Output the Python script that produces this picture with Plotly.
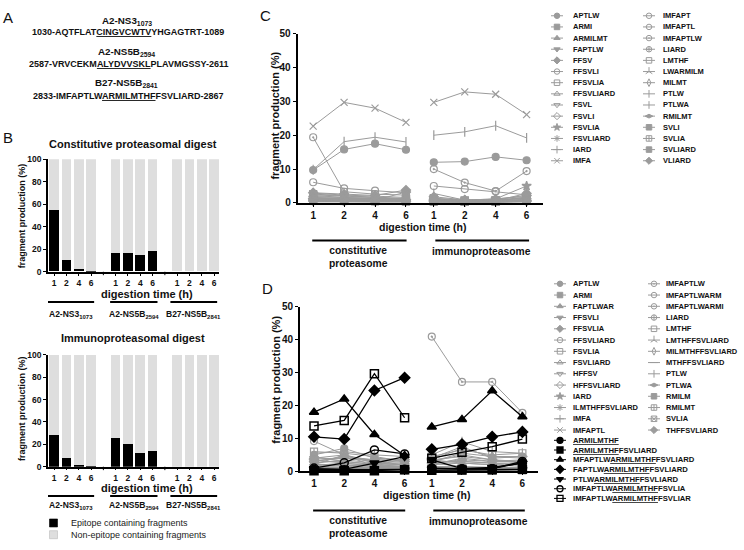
import plotly.graph_objects as go

W, H = 744, 550


def px_x(p):
    return p / W


def px_y(p):
    return 1 - p / H


FONT = "Liberation Sans, Arial, Helvetica, sans-serif"
GREY = "#9b9b9b"
LIGHT = "#dedede"
INK = "#111111"

# ---------------- data ----------------
TIME_LABELS = ["1", "2", "4", "6"]

# Panel A
A_HEADERS = ["A2-NS3<sub>1073</sub>", "A2-NS5B<sub>2594</sub>", "B27-NS5B<sub>2841</sub>"]
A_SEQUENCES = [
    "1030-AQTFLAT<u>CINGVCWTV</u>YHGAGTRT-1089",
    "2587-VRVCEKM<u>ALYDVVSKL</u>PLAVMGSSY-2611",
    "2833-IMFAPTLW<u>ARMILMTHF</u>FSVLIARD-2867",
]

# Panel B
B_GROUP_LABELS = ["A2-NS3<sub>1073</sub>", "A2-NS5B<sub>2594</sub>", "B27-NS5B<sub>2841</sub>"]
B_CONST_EPITOPE = [55, 10, 2.5, 0.8, 16, 16, 15, 18, 0, 0, 0, 0]
B_IMMUNO_EPITOPE = [28.5, 7.5, 1.5, 0.5, 25.5, 20.5, 12.5, 14, 0, 0, 0, 0]
B_LEGEND = ["Epitope containing fragments", "Non-epitope containing fragments"]

# Panel C  (constitutive 1,2,4,6 h ; immuno 1,2,4,6 h)
C_NAMES = ["APTLW", "ARMI", "ARMILMT", "FAPTLW", "FFSV", "FFSVLI", "FFSVLIA",
           "FFSVLIARD", "FSVL", "FSVLI", "FSVLIA", "FSVLIARD", "IARD", "IMFA",
           "IMFAPT", "IMFAPTL", "IMFAPTLW", "LIARD", "LMTHF", "LWARMILM", "MILMT",
           "PTLW", "PTLWA", "RMILMT", "SVLI", "SVLIA", "SVLIARD", "VLIARD"]
C_CONST = [
    [9.7, 15.8, 17.5, 15.7], [2.6, 2.2, 1.8, 1.2], [1.6, 1.3, 1.1, 0.9], [1.1, 0.9, 0.7, 0.6],
    [3.0, 2.6, 2.2, 3.8], [0.6, 0.5, 0.5, 0.6], [2.2, 1.6, 1.4, 1.1], [0.9, 0.7, 0.6, 0.6],
    [0.3, 0.3, 0.2, 0.3], [1.3, 1.1, 0.9, 0.9], [0.7, 0.6, 0.6, 0.5], [0.4, 0.4, 0.3, 0.4],
    [1.9, 1.6, 1.3, 1.0], [22.7, 29.7, 28.0, 23.8], [0.5, 0.4, 0.4, 0.5], [6.1, 4.3, 3.6, 3.0],
    [19.4, 3.3, 2.6, 2.3], [1.4, 1.2, 1.0, 0.8], [0.8, 0.7, 0.5, 0.4], [0.5, 0.3, 0.3, 0.3],
    [1.0, 0.8, 0.7, 0.7], [9.8, 18.1, 19.4, 18.0], [2.9, 2.3, 2.0, 1.6], [0.6, 0.5, 0.4, 0.4],
    [1.5, 1.3, 1.1, 1.0], [2.4, 1.9, 1.6, 1.3], [0.7, 0.6, 0.5, 0.5], [1.2, 0.9, 0.8, 3.2],
]
C_IMMUNO = [
    [12.0, 12.2, 13.6, 12.6], [1.2, 0.6, 0.7, 1.4], [0.9, 0.5, 0.6, 0.8], [0.5, 0.4, 0.4, 0.7],
    [1.8, 0.9, 1.1, 2.2], [0.4, 0.3, 0.3, 0.5], [1.1, 0.7, 0.7, 1.6], [0.6, 0.3, 0.4, 0.6],
    [0.2, 0.2, 0.2, 0.3], [0.7, 0.4, 0.5, 0.8], [0.5, 0.4, 1.2, 5.0], [0.3, 0.2, 0.3, 0.4],
    [1.3, 0.9, 0.9, 1.3], [29.7, 32.8, 32.1, 26.1], [0.3, 0.3, 0.3, 0.5], [5.0, 4.1, 3.4, 2.4],
    [10.0, 6.0, 3.5, 9.4], [0.8, 0.5, 0.5, 0.9], [0.4, 0.3, 0.3, 0.6], [0.3, 0.2, 0.2, 0.4],
    [0.6, 0.4, 0.4, 0.7], [20.0, 21.0, 22.8, 19.2], [2.8, 0.8, 1.2, 1.9], [0.4, 0.3, 0.3, 0.5],
    [1.0, 0.6, 0.6, 1.1], [1.4, 0.7, 0.8, 1.7], [0.5, 0.3, 0.4, 0.6], [0.9, 0.5, 0.6, 2.8],
]

# Panel D grey (non-epitope) fragments
D_GREY_NAMES = ["APTLW", "ARMI", "FAPTLWAR", "FFSVLI", "FFSVLIA", "FFSVLIARD", "FSVLIA",
                "FSVLIARD", "HFFSV", "HFFSVLIARD", "IARD", "ILMTHFFSVLIARD", "IMFA", "IMFAPTL",
                "IMFAPTLW", "IMFAPTLWARM", "IMFAPTLWARMI", "LIARD", "LMTHF", "LMTHFFSVLIARD",
                "MILMTHFFSVLIARD", "MTHFFSVLIARD", "PTLW", "PTLWA", "RMILM", "RMILMT", "SVLIA",
                "THFFSVLIARD"]
D_GREY_CONST = [
    [5.0, 7.0, 4.0, 3.5], [1.5, 1.2, 1.0, 1.0], [4.5, 3.0, 2.0, 1.5], [0.8, 0.6, 0.5, 0.5],
    [3.5, 2.5, 1.5, 1.2], [2.0, 5.0, 3.0, 2.0], [6.0, 5.5, 4.5, 3.0], [2.5, 3.5, 2.5, 2.5],
    [1.0, 0.8, 0.6, 0.5], [3.0, 4.5, 3.5, 3.0], [4.0, 5.0, 2.5, 2.0], [1.5, 2.0, 1.5, 1.5],
    [2.0, 1.5, 1.2, 1.0], [1.2, 1.0, 0.8, 0.8], [9.2, 5.0, 1.5, 4.0], [1.0, 0.8, 0.7, 0.6],
    [0.6, 0.5, 0.5, 0.5], [2.2, 1.8, 1.5, 1.2], [0.5, 0.4, 0.4, 0.4], [1.8, 2.5, 1.8, 1.5],
    [3.2, 4.0, 3.0, 2.8], [2.8, 3.0, 2.2, 2.0], [5.5, 6.0, 5.0, 4.5], [3.8, 4.0, 3.5, 3.5],
    [0.4, 0.3, 0.3, 0.3], [0.7, 0.6, 0.5, 0.5], [1.0, 0.9, 0.8, 0.7], [1.3, 1.1, 1.0, 1.0],
]
D_GREY_IMMUNO = [
    [4.0, 7.5, 4.0, 4.5], [1.0, 0.8, 0.8, 1.0], [3.5, 2.5, 2.0, 1.5], [0.5, 0.4, 0.4, 0.6],
    [2.5, 1.5, 1.2, 1.0], [3.0, 5.0, 3.5, 2.5], [4.5, 6.5, 5.0, 5.5], [2.0, 4.0, 3.0, 3.5],
    [0.8, 0.6, 0.5, 0.8], [3.5, 4.5, 3.5, 3.0], [3.0, 3.0, 2.5, 2.0], [2.0, 2.5, 2.0, 2.0],
    [1.5, 1.2, 1.0, 1.2], [1.0, 0.8, 0.8, 1.0], [41.0, 27.2, 27.2, 17.8], [0.8, 0.6, 0.6, 0.7],
    [0.5, 0.4, 0.4, 0.5], [1.5, 1.2, 1.0, 1.2], [0.4, 0.3, 0.3, 0.4], [2.5, 3.0, 2.5, 2.5],
    [3.0, 5.5, 4.5, 4.0], [2.5, 3.5, 3.0, 3.0], [5.0, 9.0, 6.0, 5.5], [3.5, 7.0, 4.5, 4.5],
    [0.3, 0.3, 0.3, 0.3], [0.6, 0.5, 0.5, 0.6], [0.9, 0.7, 0.7, 0.8], [1.2, 1.0, 1.0, 1.1],
]

# Panel D black (epitope-containing) fragments
D_BLACK_NAMES = [
    "<u>ARMILMTHF</u>",
    "<u>ARMILMTHF</u>FSVLIARD",
    "MFAPTLW<u>ARMILMTHF</u>FSVLIARD",
    "FAPTLW<u>ARMILMTHF</u>FSVLIARD",
    "PTLW<u>ARMILMTHF</u>FSVLIARD",
    "IMFAPTLW<u>ARMILMTHF</u>FSVLIA",
    "IMFAPTLW<u>ARMILMTHF</u>FSVLIAR",
]
D_BLACK_CONST = [
    [0.6, 0.5, 0.5, 0.6], [0.2, 0.2, 0.2, 0.5], [18.0, 22.0, 11.2, 4.8], [10.5, 9.8, 24.6, 28.5],
    [0.8, 0.6, 2.5, 4.5], [1.0, 2.6, 6.5, 5.3], [13.8, 15.5, 29.7, 16.3],
]
D_BLACK_IMMUNO = [
    [1.0, 0.7, 0.8, 2.6], [0.3, 0.4, 0.5, 0.6], [13.5, 15.8, 24.5, 16.6], [6.7, 8.2, 10.5, 12.0],
    [3.5, 0.8, 1.2, 2.5], [0.8, 0.8, 0.8, 3.0], [4.0, 5.8, 7.5, 9.8],
]

# ---------------- styles ----------------
C_SYMBOLS = ["circle", "square", "triangle-up", "triangle-down", "diamond", "circle-open",
             "square-open", "triangle-up-open", "triangle-down-open", "diamond-open", "star",
             "asterisk-open", "cross-thin-open", "x-thin-open", "circle-open", "circle-open",
             "circle-open-dot", "circle-cross-open", "square-open", "y-up-open", "diamond-tall-open",
             "line-ns-open", "line-ns-open", "diamond-wide", "square", "square-cross-open",
             "square-dot", "diamond-dot"]
D_GREY_SYMBOLS = ["circle", "square", "triangle-up", "triangle-down", "diamond", "circle-open",
                  "square-open", "triangle-up-open", "triangle-down-open", "diamond-open", "star",
                  "asterisk-open", "cross-thin-open", "x-thin-open", "circle-open-dot", "circle-open",
                  "circle-open-dot", "circle-cross-open", "square-open", "y-up-open",
                  "diamond-tall-open", "line-ew-open", "line-ns-open", "diamond-wide", "square-dot",
                  "square-cross-open", "square-x-open", "diamond-dot"]
D_BLACK_SYMBOLS = ["circle", "square", "triangle-up", "diamond", "triangle-down",
                   "circle-open", "square-open"]

B_POS = [g * 5 + i for g in range(3) for i in range(4)]
B_GAPS = [4, 9]
LINE_POS = [0, 1, 2, 3, 3.9, 4.9, 5.9, 6.9]

fig = go.Figure()

# ---------------- panel B bars ----------------
for epi, xa, ya in [(B_CONST_EPITOPE, "x", "y"), (B_IMMUNO_EPITOPE, "x2", "y2")]:
    fig.add_trace(go.Bar(x=B_POS, y=epi, width=0.78, marker=dict(color="black", line=dict(width=0)),
                         xaxis=xa, yaxis=ya, showlegend=False))
    fig.add_trace(go.Bar(x=B_POS, y=[100 - v for v in epi], width=0.78,
                         marker=dict(color=LIGHT, line=dict(width=0)),
                         xaxis=xa, yaxis=ya, showlegend=False))


def split_xy(const, immuno):
    xs = LINE_POS[:4] + [None] + LINE_POS[4:]
    ys = list(const) + [None] + list(immuno)
    return xs, ys


def add_series(const, immuno, sym, color, xa, ya, size=7, lw=1.0, mlw=1.2):
    xs, ys = split_xy(const, immuno)
    fig.add_trace(go.Scatter(x=xs, y=ys, mode="lines+markers", cliponaxis=False,
                             line=dict(color=color, width=lw),
                             marker=dict(symbol=sym, size=size, color=color,
                                         line=dict(color=color, width=mlw)),
                             xaxis=xa, yaxis=ya, showlegend=False))


# ---------------- panel C ----------------
for c, i, s in zip(C_CONST, C_IMMUNO, C_SYMBOLS):
    add_series(c, i, s, GREY, "x3", "y3")

# ---------------- panel D ----------------
for c, i, s in zip(D_GREY_CONST, D_GREY_IMMUNO, D_GREY_SYMBOLS):
    add_series(c, i, s, GREY, "x4", "y4")
for c, i, s in zip(D_BLACK_CONST, D_BLACK_IMMUNO, D_BLACK_SYMBOLS):
    add_series(c, i, s, "black", "x4", "y4", size=8, lw=1.3, mlw=1.5)

annotations = []
shapes = []


def ann(text, x, y, size, bold=True, xref="paper", yref="paper", xanchor="center",
        yanchor="middle", angle=0, color=INK):
    annotations.append(dict(text=text, x=x, y=y, xref=xref, yref=yref, showarrow=False,
                            xanchor=xanchor, yanchor=yanchor, textangle=angle,
                            font=dict(family=FONT, size=size, color=color,
                                      weight="bold" if bold else "normal")))


# ---------------- legends (drawn on an overlay axis in pixel units) ----------------
def legend_entry(xm, y, sym, color, text, xt, size=5.5, mlw=1.0, tsize=7.5, half=6):
    fig.add_trace(go.Scatter(x=[xm - half, xm + half], y=[y, y], mode="lines",
                             line=dict(color=color, width=1), xaxis="x5", yaxis="y5",
                             showlegend=False, hoverinfo="skip"))
    fig.add_trace(go.Scatter(x=[xm], y=[y], mode="markers", cliponaxis=False,
                             marker=dict(symbol=sym, size=size, color=color,
                                         line=dict(color=color, width=mlw)),
                             xaxis="x5", yaxis="y5", showlegend=False, hoverinfo="skip"))
    ann(text, xt, y, tsize, xref="x5", yref="y5", xanchor="left")


for k, (name, sym) in enumerate(zip(C_NAMES, C_SYMBOLS)):
    col, row = divmod(k, 14)
    y = 10 + 11.4 * row
    if col == 0:
        legend_entry(557, y, sym, GREY, name, 571)
    else:
        legend_entry(649, y, sym, GREY, name, 661)

for k, (name, sym) in enumerate(zip(D_GREY_NAMES, D_GREY_SYMBOLS)):
    col, row = divmod(k, 14)
    y = 284 + 11.5 * row
    if col == 0:
        legend_entry(560, y, sym, GREY, name, 571)
    else:
        legend_entry(654, y, sym, GREY, name, 664)

for j, (name, sym) in enumerate(zip(D_BLACK_NAMES, D_BLACK_SYMBOLS)):
    y = 444 + 9.9 * j
    legend_entry(560, y, sym, "black", name, 571, size=6, mlw=1.3, tsize=7.7)

# panel B legend
for j, (name, col) in enumerate(zip(B_LEGEND, ["black", LIGHT])):
    y = 528.5 + 12 * j
    fig.add_trace(go.Scatter(x=[53.5], y=[y], mode="markers", cliponaxis=False,
                             marker=dict(symbol="square", size=8, color=col,
                                         line=dict(color="#bbbbbb" if j else "black", width=0.6)),
                             xaxis="x5", yaxis="y5", showlegend=False, hoverinfo="skip"))
    ann(name, 69, y, 9, bold=False, xref="x5", yref="y5", xanchor="left", color="#222222")

# ---------------- panel letters ----------------
for letter, x, y in [("A", 8, 12), ("B", 8, 134), ("C", 265, 10), ("D", 267, 289)]:
    ann(letter, px_x(x), px_y(y), 15, bold=False)

# ---------------- panel A text ----------------
for hdr, seq, (yh, ys) in zip(A_HEADERS, A_SEQUENCES, [(15, 26.5), (47, 59.5), (78.5, 91.5)]):
    ann(hdr, px_x(127), px_y(yh), 9.8)
    ann(seq, px_x(128), px_y(ys), 9)

# ---------------- panel B text ----------------
ann("Constitutive proteasomal digest", px_x(133), px_y(141), 11)
ann("Immunoproteasomal digest", px_x(133), px_y(339), 11)
for yt in [215, 412]:
    ann("fragment production (%)", px_x(22), px_y(yt), 9, angle=-90)
ann("digestion time (h)", px_x(147), px_y(294), 11)
ann("digestion time (h)", px_x(147), px_y(492.5), 11)
B_SEG = [(-0.55, 3.25), (4.55, 8.4), (9.45, 13.25)]
for (x0, x1), lab in zip(B_SEG, B_GROUP_LABELS):
    for yl, ylab, xr in [(302.7, 315, "x"), (501, 511, "x2")]:
        shapes.append(dict(type="line", xref=xr, yref="paper", x0=x0, x1=x1,
                           y0=px_y(yl), y1=px_y(yl), line=dict(color="black", width=2)))
        ann(lab, (x0 + x1) / 2, px_y(ylab), 8.5, xref=xr)
# small separator ticks between bar groups
for xr, ybase in [("x", 271.7), ("x2", 471)]:
    for g in B_GAPS:
        shapes.append(dict(type="line", xref=xr, yref="paper", x0=g, x1=g,
                           y0=px_y(ybase), y1=px_y(ybase + 3.5), line=dict(color="black", width=1)))

# ---------------- panel C / D text ----------------
ann("fragment production (%)", px_x(275), px_y(112), 11, angle=-90)
ann("fragment production (%)", px_x(276), px_y(382), 11, angle=-90)
ann("digestion time (h)", px_x(423), px_y(226), 10.5)
ann("digestion time (h)", px_x(427), px_y(500), 10.5)
for xr, yl, ylab in [("x3", 239.7, 256.5), ("x4", 515.7, 533)]:
    for (x0, x1) in [(-0.03, 3.02), (3.95, 6.98)]:
        shapes.append(dict(type="line", xref=xr, yref="paper", x0=x0, x1=x1,
                           y0=px_y(yl), y1=px_y(yl), line=dict(color="black", width=2)))
    ann("constitutive<br>proteasome", 1.48, px_y(ylab), 10.3, xref=xr)
    ann("immunoproteasome", 5.45, px_y(ylab - 5.5), 10.3, xref=xr)

# ---------------- axes ----------------
tickfont_small = dict(family=FONT, size=8.5, color=INK, weight="bold")
tickfont_big = dict(family=FONT, size=10, color=INK, weight="bold")


def xaxis_cfg(dom, rng, tv, tt, tf, lw, anchor, ticklen):
    return dict(domain=dom, range=rng, tickvals=tv, ticktext=tt, tickfont=tf, showline=True,
                linecolor="black", linewidth=lw, ticks="outside", ticklen=ticklen, tickwidth=1,
                tickcolor="black", showgrid=False, zeroline=False, fixedrange=True,
                anchor=anchor)


def yaxis_cfg(dom, rng, dtick, tf, lw, anchor):
    return dict(domain=dom, range=rng, dtick=dtick, tickfont=tf, showline=True,
                linecolor="black", linewidth=lw, ticks="outside", ticklen=3, tickwidth=1,
                tickcolor="black", showgrid=False, zeroline=False, fixedrange=True,
                anchor=anchor)


layout = dict(
    width=W, height=H, margin=dict(l=0, r=0, t=0, b=0),
    paper_bgcolor="white", plot_bgcolor="rgba(0,0,0,0)",
    barmode="stack", bargap=0, showlegend=False,
    font=dict(family=FONT, color=INK),
    xaxis=xaxis_cfg([px_x(48), px_x(219)], [-0.5, 13.4], B_POS, TIME_LABELS * 3,
                    tickfont_small, 1.5, "y", 2),
    yaxis=yaxis_cfg([px_y(271.7), px_y(156.7)], [0, 100], 20, tickfont_small, 1.5, "x"),
    xaxis2=xaxis_cfg([px_x(48), px_x(219)], [-0.5, 13.4], B_POS, TIME_LABELS * 3,
                     tickfont_small, 1.5, "y2", 2),
    yaxis2=yaxis_cfg([px_y(471), px_y(356.7)], [0, 100], 20, tickfont_small, 1.5, "x2"),
    xaxis3=xaxis_cfg([px_x(297.7), px_x(543)], [-0.5, 7.43], LINE_POS, TIME_LABELS * 2,
                     tickfont_big, 2, "y3", 2),
    yaxis3=yaxis_cfg([px_y(201.3), px_y(28.3)], [0, 50], 10, tickfont_big, 2, "x3"),
    xaxis4=xaxis_cfg([px_x(300), px_x(538)], [-0.464, 7.417], LINE_POS, TIME_LABELS * 2,
                     tickfont_big, 2, "y4", 2),
    yaxis4=yaxis_cfg([px_y(475.7), px_y(307.7)], [0, 50], 10, tickfont_big, 2, "x4"),
    xaxis5=dict(domain=[0, 1], range=[0, W], visible=False, anchor="y5", fixedrange=True),
    yaxis5=dict(domain=[0, 1], range=[H, 0], visible=False, anchor="x5", fixedrange=True),
    annotations=annotations,
    shapes=shapes,
)
fig.update_layout(**layout)

# remove the browser's default 8px page margin so the figure sits at the window origin
fig.write_html("out.html", config={"displayModeBar": False},
               post_script="document.body.style.margin='0';")
